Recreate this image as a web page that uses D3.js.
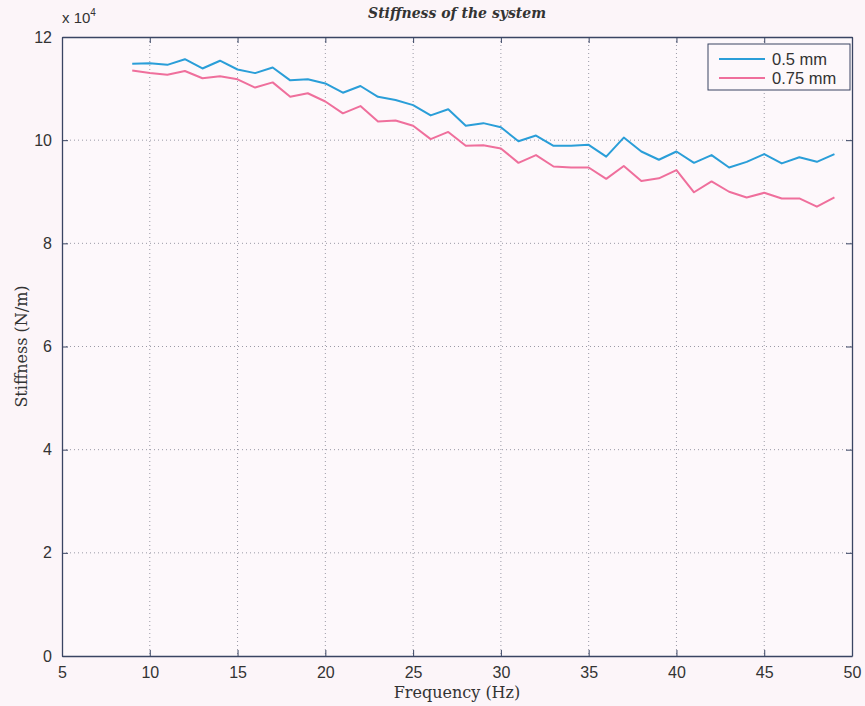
<!DOCTYPE html>
<html>
<head>
<meta charset="utf-8">
<script src="https://cdn.jsdelivr.net/npm/d3@7"></script>
<style>
  html, body { margin: 0; padding: 0; background: #fcf5f9; }
  svg { display: block; }
</style>
</head>
<body>
<svg id="chart" width="865" height="706"></svg>
<script>
// Excitation frequencies (Hz)
const frequency = [9,10,11,12,13,14,15,16,17,18,19,20,21,22,23,24,25,26,27,28,29,
  30,31,32,33,34,35,36,37,38,39,40,41,42,43,44,45,46,47,48,49];

// Stiffness in units of 10^4 N/m
const stiffness05 = [11.48,11.49,11.46,11.57,11.39,11.54,11.37,11.30,11.41,11.16,11.18,
  11.10,10.92,11.05,10.84,10.78,10.68,10.48,10.60,10.28,10.33,10.25,9.98,10.09,9.89,
  9.89,9.91,9.68,10.05,9.78,9.62,9.78,9.56,9.71,9.47,9.58,9.73,9.55,9.67,9.58,9.73];
const stiffness075 = [11.35,11.30,11.27,11.34,11.20,11.24,11.18,11.02,11.12,10.84,10.91,
  10.75,10.52,10.66,10.36,10.38,10.28,10.02,10.16,9.89,9.90,9.84,9.56,9.71,9.49,
  9.47,9.47,9.25,9.50,9.21,9.26,9.42,8.99,9.20,9.00,8.89,8.98,8.87,8.87,8.71,8.89];

const seriesNames = ["0.5 mm", "0.75 mm"];
const seriesColors = ["#2a9ed8", "#ef6f9c"];
const xTicks = [5,10,15,20,25,30,35,40,45,50];
const yTicks = [0,2,4,6,8,10,12];

const svg = d3.select("#chart");
const plotL = 62, plotR = 852, plotT = 37, plotB = 656;

const x = d3.scaleLinear().domain([5, 50]).range([plotL, plotR]);
const y = d3.scaleLinear().domain([0, 12]).range([plotB, plotT]);

// plot background
svg.append("rect").attr("x", plotL).attr("y", plotT)
  .attr("width", plotR - plotL).attr("height", plotB - plotT)
  .attr("fill", "#fdf8fb");

// dotted grid
const grid = svg.append("g").attr("stroke", "#9a9aa6").attr("stroke-width", 1)
  .attr("stroke-dasharray", "1,3");
grid.selectAll(".gx").data(xTicks.slice(1, -1)).join("line")
  .attr("x1", d => x(d)).attr("x2", d => x(d)).attr("y1", plotT).attr("y2", plotB);
grid.selectAll(".gy").data(yTicks.slice(1, -1)).join("line")
  .attr("y1", d => y(d)).attr("y2", d => y(d)).attr("x1", plotL).attr("x2", plotR);

// axes with inward ticks on all four sides
const axisColor = "#3a4563";
function styleAxis(g) {
  g.selectAll("path").attr("stroke", axisColor).attr("stroke-width", 1.3);
  g.selectAll("line").attr("stroke", axisColor);
  g.selectAll("text").attr("fill", "#333").attr("font-family", "Liberation Sans, Arial, sans-serif")
    .attr("font-size", 16);
}
svg.append("g").attr("transform", `translate(0,${plotB})`)
  .call(d3.axisBottom(x).tickValues(xTicks).tickSize(-6).tickSizeOuter(0).tickPadding(11).tickFormat(d3.format("d")))
  .call(styleAxis);
svg.append("g").attr("transform", `translate(0,${plotT})`)
  .call(d3.axisTop(x).tickValues(xTicks).tickSize(-6).tickSizeOuter(0).tickFormat(""))
  .call(styleAxis);
svg.append("g").attr("transform", `translate(${plotL},0)`)
  .call(d3.axisLeft(y).tickValues(yTicks).tickSize(-6).tickSizeOuter(0).tickPadding(10).tickFormat(d3.format("d")))
  .call(styleAxis);
svg.append("g").attr("transform", `translate(${plotR},0)`)
  .call(d3.axisRight(y).tickValues(yTicks).tickSize(-6).tickSizeOuter(0).tickFormat(""))
  .call(styleAxis);

// exponent marker
const expo = svg.append("text").attr("x", plotL).attr("y", 23)
  .attr("font-family", "Liberation Sans, Arial, sans-serif").attr("font-size", 15).attr("fill", "#333");
expo.append("tspan").text("x 10");
expo.append("tspan").attr("dy", -7).attr("font-size", 10).text("4");

// series lines
const line = d3.line().x((d, i) => x(frequency[i])).y(d => y(d));
[stiffness05, stiffness075].forEach((s, k) => {
  svg.append("path").datum(s).attr("d", line)
    .attr("fill", "none").attr("stroke", seriesColors[k]).attr("stroke-width", 2)
    .attr("stroke-linejoin", "round");
});

// legend
const lg = svg.append("g").attr("transform", "translate(708,44)");
lg.append("rect").attr("width", 142).attr("height", 46)
  .attr("fill", "#fdf8fb").attr("stroke", axisColor).attr("stroke-width", 1);
seriesNames.forEach((name, k) => {
  const yy = 15 + k * 19;
  lg.append("line").attr("x1", 11).attr("x2", 57).attr("y1", yy).attr("y2", yy)
    .attr("stroke", seriesColors[k]).attr("stroke-width", 2);
  lg.append("text").attr("x", 64).attr("y", yy + 6).text(name)
    .attr("font-family", "Liberation Sans, Arial, sans-serif").attr("font-size", 16.5).attr("fill", "#333");
});

// title and axis labels
const serif = "DejaVu Serif, Liberation Serif, serif";
svg.append("text").attr("x", (plotL + plotR) / 2).attr("y", 18).attr("text-anchor", "middle")
  .attr("font-family", serif).attr("font-style", "italic").attr("font-weight", "bold")
  .attr("font-size", 14).attr("fill", "#333").text("Stiffness of the system");
svg.append("text").attr("x", (plotL + plotR) / 2).attr("y", 698).attr("text-anchor", "middle")
  .attr("font-family", serif).attr("font-size", 16).attr("fill", "#333").text("Frequency (Hz)");
svg.append("text").attr("transform", `translate(27,${(plotT + plotB) / 2}) rotate(-90)`)
  .attr("text-anchor", "middle")
  .attr("font-family", serif).attr("font-size", 16).attr("fill", "#333").text("Stiffness (N/m)");
</script>
</body>
</html>
